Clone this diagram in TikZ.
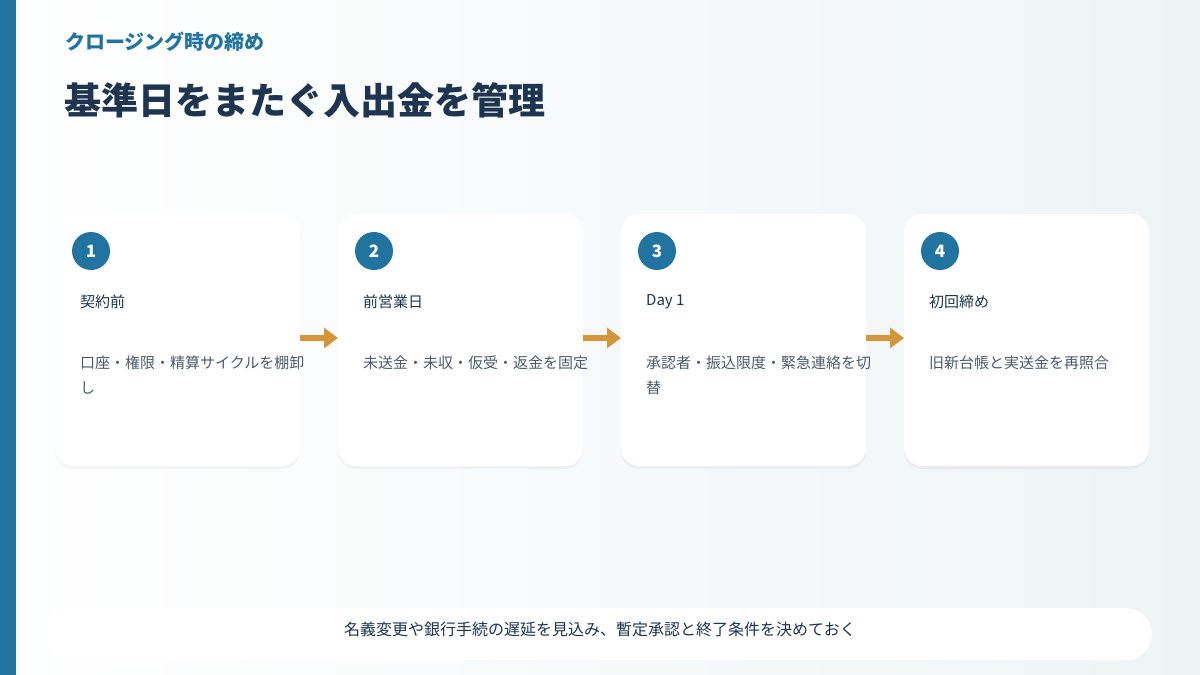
\documentclass[tikz,border=0pt]{standalone}
\usepackage{fontspec}
\setmainfont{Noto Sans CJK JP}
\usetikzlibrary{arrows.meta,shadows}
\definecolor{bar}{HTML}{2274A0}
\definecolor{navy}{HTML}{1D3550}
\definecolor{txt}{HTML}{4A5A6A}
\definecolor{arr}{HTML}{D4963A}
\definecolor{bgb}{HTML}{EEF4F6}
\tikzset{
 card/.style={fill=white,rounded corners=18pt,draw=none,drop shadow={shadow xshift=0pt,shadow yshift=-3pt,opacity=0.08}},
 num/.style={circle,fill=bar,minimum size=38pt,inner sep=0,text=white,font=\fontsize{17}{20}\selectfont\bfseries},
 lab/.style={anchor=west,inner sep=0,text=navy,font=\fontsize{15}{18}\selectfont},
 desc/.style={anchor=north west,inner sep=0,text=txt,align=left,font=\fontsize{15}{25}\selectfont},
 flow/.style={draw=arr,line width=6pt,-{Triangle[length=14pt,width=20pt]}}
}
\begin{document}
\begin{tikzpicture}[x=1pt,y=-1pt]
\useasboundingbox (0,0) rectangle (1200,675);
\shade[left color=white,right color=bgb] (0,0) rectangle (1200,675);
\fill[bar] (0,0) rectangle (16,675);
\node[anchor=west,inner sep=0,text=bar,font=\fontsize{20}{22}\selectfont\bfseries] (sub) at (65,42) {クロージング時の締め};
\node[anchor=west,inner sep=0,text=navy,font=\fontsize{37}{42}\selectfont\bfseries] (title) at (64,100) {基準日をまたぐ入出金を管理};
\foreach \i/\x/\l/\d in {1/55/契約前/口座・権限・精算サイクルを棚卸\\し,2/338/前営業日/未送金・未収・仮受・返金を固定,3/621/Day 1/承認者・振込限度・緊急連絡を切\\替,4/904/初回締め/旧新台帳と実送金を再照合}{
 \path[card] (\x,214) rectangle ++(245,252);
 \coordinate (L\i) at (\x,338);
 \coordinate (R\i) at (\x+245,338);
 \node[num] (n\i) at (\x+36,251) {\i};
 \node[lab] (l\i) at (\x+25,302) {\l};
 \node[desc] (d\i) at (\x+25,356) {\d};
}
\draw[flow] (R1) -- (L2);
\draw[flow] (R2) -- (L3);
\draw[flow] (R3) -- (L4);
\path[fill=white,rounded corners=26pt] (48,608) rectangle (1152,660);
\node[inner sep=0,text=navy,font=\fontsize{16}{18}\selectfont] (note) at (600,629) {名義変更や銀行手続の遅延を見込み、暫定承認と終了条件を決めておく};
\end{tikzpicture}
\end{document}
